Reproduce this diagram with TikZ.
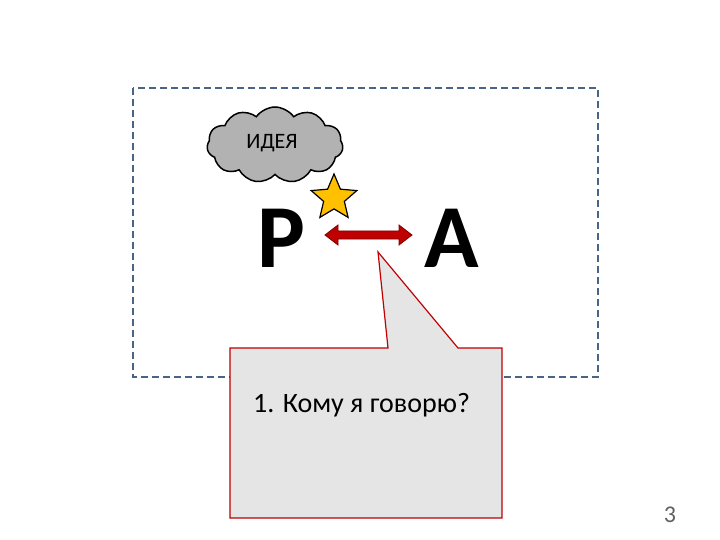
\documentclass[tikz,border=0pt]{standalone}
\usepackage{fontspec}
\setmainfont{Carlito}
\usetikzlibrary{shapes.symbols,shapes.geometric}
\definecolor{dashc}{HTML}{4A6583}
\definecolor{starc}{HTML}{FFC000}
\begin{document}
\begin{tikzpicture}[x=1pt,y=-1pt]
\useasboundingbox (0,0) rectangle (720,540);
\draw[dash pattern=on 7pt off 4pt,color=dashc,line width=1.8pt] (133,88) rectangle (598,377);
\node[cloud,cloud puffs=11,cloud puff arc=110,aspect=2.1,draw=black,line width=1.5pt,fill=gray!60,minimum width=136pt,minimum height=76pt] (cloud) at (275,145) {};
\node[font=\fontsize{22}{22}\selectfont] (idea) at (272,143) {ИДЕЯ};
\node[font=\fontsize{90}{90}\selectfont\bfseries,inner sep=0] (p) at (281,238) {P};
\node[font=\fontsize{90}{90}\selectfont\bfseries,inner sep=0] (a) at (452,238) {A};
\node[star,star points=5,star point ratio=2.2,draw=black,line width=1.2pt,fill=starc,minimum size=48pt,inner sep=0] (star) at (334,198) {};
\fill[color=red!75!black,draw=red!50!black,line width=0.8pt] (325,235) -- (338,225) -- (338,231) -- (399,231) -- (399,225) -- (412,235) -- (399,245) -- (399,239) -- (338,239) -- (338,245) -- cycle;
\draw[fill=gray!20,draw=red!75!black,line width=1.2pt] (230,348) -- (388,348) -- (378,252) -- (458,348) -- (502,348) -- (502,518) -- (230,518) -- cycle;
\node[font=\fontsize{28}{28}\selectfont,anchor=west,inner sep=0] (q) at (253,405) {1. Кому я говорю?};
\node[font=\fontsize{24}{24}\selectfont,text=gray!75!black] (n) at (670,515) {3};
\end{tikzpicture}
\end{document}
